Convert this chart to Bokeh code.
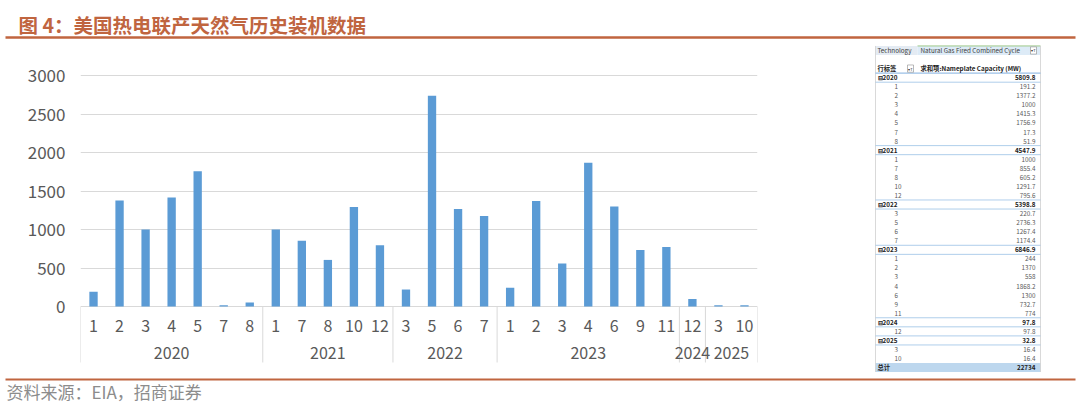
from bokeh.plotting import figure
from bokeh.models import FactorRange, Range1d, FixedTicker, ColumnDataSource
from bokeh.layouts import column, row
from bokeh.embed import file_html
from bokeh.resources import INLINE
from bokeh.core.properties import value

# ---------------- data ----------------
years = ["2020", "2021", "2022", "2023", "2024", "2025"]
months = [
    ["1", "2", "3", "4", "5", "7", "8"],
    ["1", "7", "8", "10", "12"],
    ["3", "5", "6", "7"],
    ["1", "2", "3", "4", "6", "9", "11"],
    ["12"],
    ["3", "10"],
]
capacity = [
    [191.2, 1377.2, 1000, 1415.3, 1756.9, 17.3, 51.9],
    [1000, 855.4, 605.2, 1291.7, 795.6],
    [220.7, 2736.3, 1267.4, 1174.4],
    [244, 1370, 558, 1868.2, 1300, 732.7, 774],
    [97.8],
    [16.4, 16.4],
]
y_ticks = [0, 500, 1000, 1500, 2000, 2500, 3000]

title_text = "图 4：美国热电联产天然气历史装机数据"
source_text = "资料来源：EIA，招商证券"
table_header = ["Technology", "Natural Gas Fired Combined Cycle"]
table_cols = ["行标签", "求和项:Nameplate Capacity (MW)"]
total_label = "总计"

# ---------------- styles ----------------
FONT = value("Noto Sans CJK SC")
BROWN = "#c0653f"
BAR = "#5b9bd5"
GRID = "#d9d9d9"
TXT = "#595959"


def fmt(v):
    return f"{round(v, 1):g}"


def blank(w, h, xr, yr):
    f = figure(width=w, height=h, x_range=xr, y_range=yr, output_backend="svg",
               toolbar_location=None, x_axis_location=None, y_axis_location=None,
               min_border=0, min_border_left=0, min_border_right=0,
               min_border_top=0, min_border_bottom=0)
    f.outline_line_color = None
    f.xgrid.visible = False
    f.ygrid.visible = False
    f.background_fill_color = "white"
    f.border_fill_color = "white"
    return f


# ---------------- header ----------------
hdr = blank(1080, 44, Range1d(0, 1080), Range1d(44, 0))
hdr.text(x=[18], y=[24], text=[title_text], text_font=FONT, text_font_size="19.5px",
         text_font_style="bold", text_color=BROWN, text_align="left", text_baseline="middle")
hdr.segment(x0=[5], y0=[37], x1=[1075], y1=[37], line_color=BROWN, line_width=2.5)

# ---------------- bar chart ----------------
factors = [(y, m) for y, ms in zip(years, months) for m in ms]
vals = [v for vs in capacity for v in vs]
xr = FactorRange(factors=factors, factor_padding=0, group_padding=0,
                 subgroup_padding=0, range_padding=0)
yr = Range1d(-857, 3403)
SEP_BOTTOM, MONTH_Y, YEAR_Y = -727, -247, -610
p = figure(width=873, height=328, x_range=xr, y_range=yr, output_backend="svg",
           toolbar_location=None, x_axis_location=None,
           min_border_left=80, min_border_right=116, min_border_top=0, min_border_bottom=0)
p.outline_line_color = None
p.background_fill_color = "white"
p.border_fill_color = "white"
p.xgrid.visible = False
p.ygrid.ticker = FixedTicker(ticks=y_ticks)
p.ygrid.grid_line_color = GRID
p.yaxis.ticker = FixedTicker(ticks=y_ticks)
p.yaxis.axis_line_color = None
p.yaxis.major_tick_line_color = None
p.yaxis.minor_tick_line_color = None
p.yaxis.major_label_text_font_size = "17px"
p.yaxis.major_label_text_color = TXT
p.yaxis.major_label_text_font = "Noto Sans CJK SC"
p.yaxis.major_label_standoff = 9

src = ColumnDataSource(dict(x=factors, top=vals, m=[f[1] for f in factors]))
p.vbar(x="x", top="top", width=0.32, source=src, fill_color=BAR, line_color=None)

# category labels & separators
counts = [len(ms) for ms in months]
bounds = [sum(counts[:i]) for i in range(len(counts) + 1)]
centers = [(bounds[i] + bounds[i + 1]) / 2 for i in range(len(counts))]
p.segment(x0=bounds, y0=[0] * len(bounds), x1=bounds, y1=[SEP_BOTTOM] * len(bounds),
          line_color=GRID, line_width=1)
p.text(x="x", y=MONTH_Y, text="m", source=src, text_font=FONT, text_font_size="16px",
       text_color=TXT, text_align="center", text_baseline="middle")
p.text(x=centers, y=[YEAR_Y] * len(centers), text=years, text_font=FONT, text_font_size="16px",
       text_color=TXT, text_align="center", text_baseline="middle")

# ---------------- pivot table ----------------
t = blank(207, 328, Range1d(0, 207), Range1d(35.54, -0.66))
XL, XS, XR, XE, XM = 2, 44, 162, 167, 21
rows_lbl, rows_val, rows_y, rows_bold, rows_x = [], [], [], [], []
r = 3
year_rows = []
for y, ms, vs in zip(years, months, capacity):
    rows_lbl.append("⊟" + y); rows_val.append(fmt(sum(vs))); rows_y.append(r)
    rows_bold.append("bold"); rows_x.append(XL + 2)
    year_rows.append(r)
    r += 1
    for m, v in zip(ms, vs):
        rows_lbl.append(m); rows_val.append(fmt(v)); rows_y.append(r)
        rows_bold.append("normal"); rows_x.append(XM)
        r += 1
total_row = r
grand = sum(sum(vs) for vs in capacity)

# fills
t.quad(left=[XL, XS], right=[XS, XE], bottom=[0.5, 0.5], top=[-0.5, -0.5],
       fill_color=["#e4ebf3", "#ddebf7"], line_color=None)
t.segment(x0=[XS], y0=[-0.5], x1=[XE], y1=[-0.5], line_color="#9dc88a", line_width=1)
t.quad(left=[XL], right=[XE], bottom=[total_row + 0.5], top=[total_row - 0.5],
       fill_color="#bdd7ee", line_color=None)
# borders / lines
t.segment(x0=[XL, XE], y0=[-0.5, -0.5], x1=[XL, XE], y1=[total_row + 0.5, total_row + 0.5],
          line_color="#cfcfcf", line_width=0.8)
ly = [2.5] + [yy + 0.5 for yy in year_rows] + [yy - 0.5 for yy in year_rows]
t.segment(x0=[XL] * len(ly), y0=ly, x1=[XE] * len(ly), y1=ly, line_color="#9bc2e6", line_width=0.8)
# filter icons
t.rect(x=[160, 37], y=[0, 2], width=6, height=0.8, fill_color="white", line_color="#8c8c8c", line_width=0.6)
t.text(x=[160, 37], y=[0, 2], text=["▾T", "▾T"], text_font=FONT, text_font_size="4px",
       text_color="#333333", text_align="center", text_baseline="middle")
# header texts
t.text(x=[XL + 2, XS + 3], y=[0, 0], text=table_header, text_font=FONT, text_font_size="6.3px",
       text_color="#404040", text_align="left", text_baseline="middle")
t.text(x=[XL + 2, XS + 3], y=[2, 2], text=table_cols, text_font=FONT, text_font_size="6.3px",
       text_font_style="bold", text_color="#222222", text_align="left", text_baseline="middle")
tsrc = ColumnDataSource(dict(x=rows_x, y=rows_y, lbl=rows_lbl, val=rows_val, st=rows_bold,
                             col=["#222222" if s == "bold" else "#595959" for s in rows_bold]))
t.text(x="x", y="y", text="lbl", source=tsrc, text_font=FONT, text_font_size="6.3px",
       text_font_style="st", text_color="col", text_align="left", text_baseline="middle")
t.text(x=XR, y="y", text="val", source=tsrc, text_font=FONT, text_font_size="6.3px",
       text_font_style="st", text_color="col", text_align="right", text_baseline="middle")
t.text(x=[XL + 2, XR], y=[total_row, total_row], text=[total_label, fmt(grand)], text_font=FONT,
       text_font_size="6.3px", text_font_style="bold", text_color="#222222",
       text_align=["left", "right"], text_baseline="middle")

# ---------------- footer ----------------
ftr = blank(1080, 33, Range1d(0, 1080), Range1d(33, 0))
ftr.segment(x0=[5], y0=[7], x1=[1075], y1=[7], line_color=BROWN, line_width=2)
ftr.text(x=[6], y=[19], text=[source_text], text_font=FONT, text_font_size="17px",
         text_color="#8c8c8c", text_align="left", text_baseline="middle")

layout = column(hdr, row(p, t), ftr)
open("out.html", "w").write(file_html(layout, INLINE))
